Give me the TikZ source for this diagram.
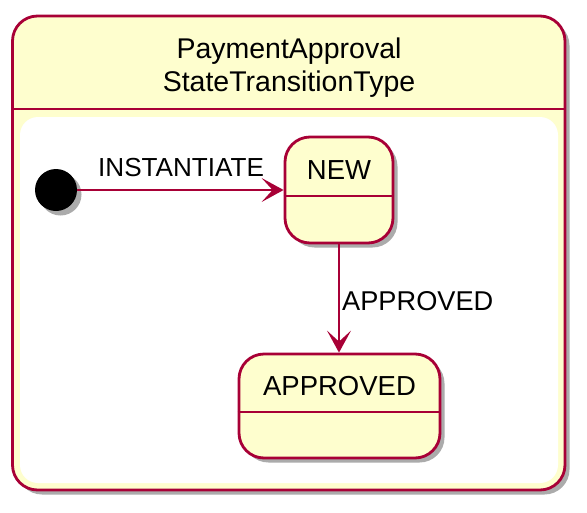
\documentclass[tikz,border=0pt]{standalone}
\usepackage{fontspec}
\setmainfont{Liberation Sans}
\usetikzlibrary{arrows.meta,shadows}
\definecolor{pfill}{HTML}{FEFECE}
\definecolor{pline}{HTML}{A80036}
\tikzset{
  shad/.style={drop shadow={shadow xshift=4.5pt, shadow yshift=-4.5pt, fill=black, opacity=0.33}},
  statebox/.style={draw=pline, fill=pfill, line width=2.8pt, rounded corners=25pt, shad, inner sep=0pt},
  outerbox/.style={draw=pline, fill=pfill, line width=2.8pt, rounded corners=25pt, shad, inner sep=0pt},
  innerbox/.style={fill=white, draw=none, rounded corners=18pt, inner sep=0pt},
  initdot/.style={circle, fill=black, draw=none, minimum size=42pt, inner sep=0pt, shad},
  divider/.style={draw=pline, line width=2.8pt},
  arr/.style={draw=pline, line width=1.6pt, -{Stealth[length=22pt, width=24pt, inset=11pt]}},
  txt/.style={inner sep=0pt, anchor=base},
}
\begin{document}
\begin{tikzpicture}[x=1pt, y=-1pt]
\useasboundingbox (0,0) rectangle (587,512);
% outer composite state
\node[outerbox, minimum width=552.5pt, minimum height=474pt] (pkg) at (288.75,253) {};
\draw[divider] (pkg.west |- 0,109) coordinate (dl) -- (pkg.east |- 0,109) coordinate (dr);
\node[innerbox, minimum width=538pt, minimum height=366pt] (inner) at (289,300) {};
\node[txt, font=\fontsize{28.5}{30}\selectfont] (t1) at (289,58) {PaymentApproval};
\node[txt, font=\fontsize{28.5}{30}\selectfont] (t2) at (289,91) {StateTransitionType};
% initial
\node[initdot] (init) at (56,190) {};
% NEW
\node[statebox, minimum width=108pt, minimum height=106pt] (new) at (339,190) {};
\draw[divider] (new.west |- 0,196) -- (new.east |- 0,196);
\node[txt, font=\fontsize{27.5}{30}\selectfont] (newt) at (339,179) {NEW};
% APPROVED
\node[statebox, minimum width=201pt, minimum height=104pt] (appr) at (339.5,406) {};
\draw[divider] (appr.west |- 0,412) -- (appr.east |- 0,412);
\node[txt, font=\fontsize{27.5}{30}\selectfont] (apprt) at (339.5,395) {APPROVED};
% transitions
\draw[arr] (init) -- (new.west |- init);
\node[txt, anchor=base west, font=\fontsize{26.1}{28}\selectfont] (l1) at (98,176) {INSTANTIATE};
\draw[arr] (new.south) -- (appr.north -| new.south);
\node[txt, anchor=base west, font=\fontsize{27.2}{30}\selectfont] (l2) at (342,310) {APPROVED};
\end{tikzpicture}
\end{document}
